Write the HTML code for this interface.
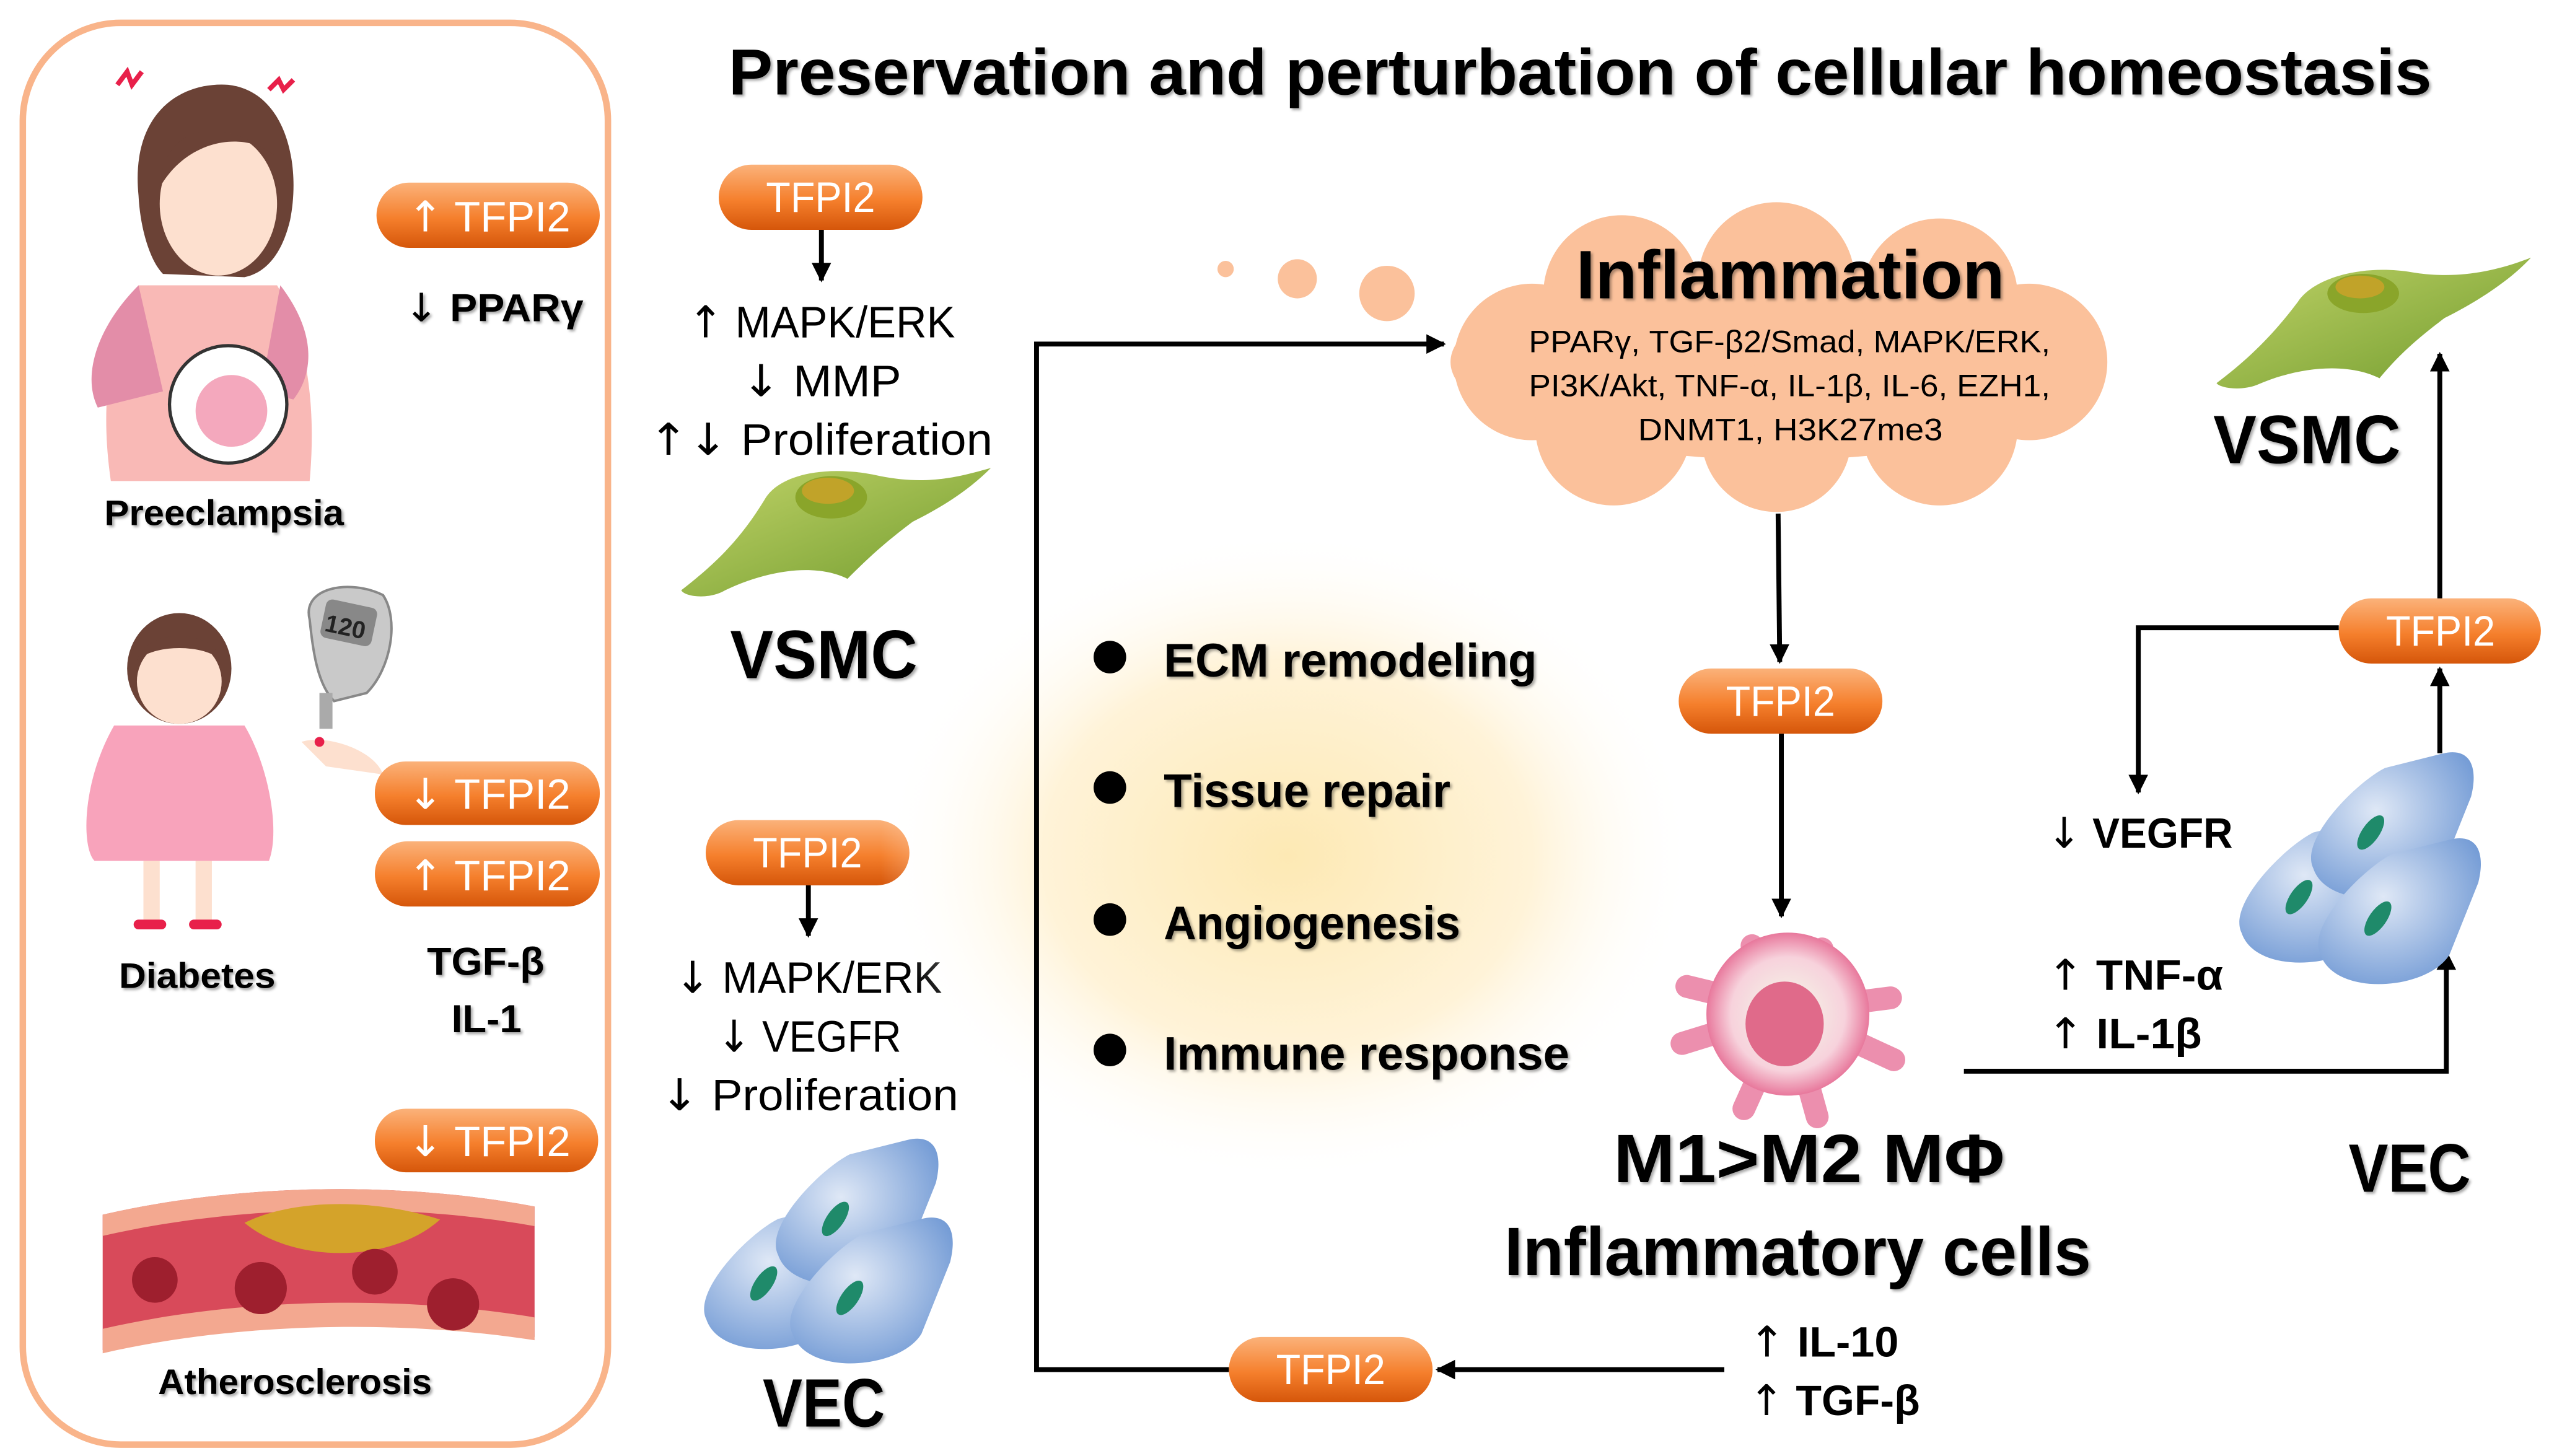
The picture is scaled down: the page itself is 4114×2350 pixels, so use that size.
<!DOCTYPE html>
<html><head><meta charset="utf-8"><style>
html,body{margin:0;padding:0;background:#fff;}
svg{display:block;}
text{font-family:"Liberation Sans",sans-serif;}
.ar{font-family:"DejaVu Sans",sans-serif;font-weight:normal;}
</style></head><body>
<svg width="4114" height="2350" viewBox="0 0 1564 893" preserveAspectRatio="none" xmlns="http://www.w3.org/2000/svg">
<defs>
<linearGradient id="pill" x1="0" y1="0" x2="0" y2="1">
<stop offset="0" stop-color="#fbb27a"/><stop offset="0.55" stop-color="#f57f2c"/><stop offset="1" stop-color="#d5560a"/></linearGradient>
<radialGradient id="glow" cx="0.5" cy="0.5" r="0.5">
<stop offset="0" stop-color="#fde9b4"/><stop offset="0.6" stop-color="#fff3d8"/><stop offset="1" stop-color="#ffffff" stop-opacity="0"/></radialGradient>
<linearGradient id="green" x1="0" y1="0" x2="1" y2="1">
<stop offset="0" stop-color="#c2d469"/><stop offset="1" stop-color="#6f9a2c"/></linearGradient>
<radialGradient id="blue" cx="0.4" cy="0.4" r="0.7">
<stop offset="0" stop-color="#dfe8f6"/><stop offset="1" stop-color="#6f98d4"/></radialGradient>
<radialGradient id="mac" cx="0.5" cy="0.5" r="0.5">
<stop offset="0" stop-color="#f4fbe9"/><stop offset="0.7" stop-color="#f7d2dc"/><stop offset="1" stop-color="#e8789c"/></radialGradient>
<marker id="ah" viewBox="0 0 10 10" refX="9" refY="5" markerWidth="4" markerHeight="4" orient="auto"><path d="M0,0 L10,5 L0,10 z" fill="#000"/></marker>
<filter id="sh" x="-5%" y="-5%" width="110%" height="120%"><feDropShadow dx="1.2" dy="1.2" stdDeviation="0.8" flood-color="#000" flood-opacity="0.35"/></filter>
<g id="vec">
<path d="M-70,40 C-80,20 -40,-20 -20,-30 L20,-40 C40,-45 45,-30 40,-10 L20,40 C5,65 -60,70 -70,40 z" fill="url(#blue)"/>
<ellipse cx="-30" cy="15" rx="6" ry="14" transform="rotate(35 -30 15)" fill="#1f8a6a"/>
</g>
</defs>
<rect width="1564" height="893" fill="#fff"/>
<rect x="14" y="14" width="359" height="872" rx="60" fill="none" stroke="#f9b48a" stroke-width="4"/>
<!-- pregnant woman -->
<g>
<path d="M85,120 C80,70 110,50 140,52 C175,56 185,100 178,135 C172,160 160,168 150,170 L100,168 C92,160 86,140 85,120 Z" fill="#6b4236"/>
<ellipse cx="134" cy="125" rx="36" ry="44" fill="#fde0cf"/>
<path d="M98,115 C100,80 130,68 168,95 C150,80 115,85 98,115z" fill="#6b4236"/>
<path d="M85,175 C70,200 60,240 68,295 L190,295 C195,240 185,200 170,175 Z" fill="#f9b9b6"/>
<path d="M85,175 C60,200 50,230 60,250 L100,240 Z" fill="#e38da8"/>
<path d="M172,175 C195,205 192,230 180,245 L160,240 Z" fill="#e38da8"/>
<ellipse cx="140" cy="248" rx="36" ry="36" fill="#fff" stroke="#333" stroke-width="2"/>
<circle cx="142" cy="252" r="22" fill="#f4a8bd"/>
<path d="M72,52 l6,-8 l3,8 l6,-8" stroke="#e8204a" stroke-width="3" fill="none"/>
<path d="M165,55 l6,-6 l3,6 l6,-6" stroke="#e8204a" stroke-width="3" fill="none"/>
</g>
<!-- child + meter -->
<g>
<ellipse cx="110" cy="410" rx="32" ry="34" fill="#6b4236"/>
<ellipse cx="110" cy="418" rx="26" ry="26" fill="#fde0cf"/>
<path d="M84,405 C90,385 130,385 136,405 C125,395 95,395 84,405z" fill="#6b4236"/>
<path d="M70,445 C50,480 50,520 58,528 L165,528 C172,510 165,470 150,445 Z" fill="#f8a3bb"/>
<rect x="88" y="528" width="10" height="38" fill="#fde0cf"/><rect x="120" y="528" width="10" height="38" fill="#fde0cf"/>
<rect x="82" y="564" width="20" height="6" rx="3" fill="#e8204a"/><rect x="116" y="564" width="20" height="6" rx="3" fill="#e8204a"/>
<path d="M190,380 C185,360 215,355 235,365 C245,380 240,410 225,425 L205,430 C195,420 192,400 190,380z" fill="#c9c9c9" stroke="#888" stroke-width="1.5"/>
<rect x="198" y="370" width="32" height="24" rx="4" fill="#888" transform="rotate(12 214 382)"/>
<text x="200" y="390" font-size="15" font-weight="bold" fill="#222" transform="rotate(12 214 382)">120</text>
<rect x="196" y="425" width="8" height="22" fill="#aaa"/>
<path d="M185,455 C200,450 230,460 235,475 L200,470 Z" fill="#fde0cf"/>
<circle cx="196" cy="455" r="3" fill="#e8204a"/>
</g>
<!-- artery -->
<g>
<path d="M63,745 C150,725 250,725 328,740 L328,820 C250,808 150,808 63,828 Z" fill="#d84a5a"/>
<path d="M63,745 C150,725 250,725 328,740 L328,752 C250,738 150,738 63,758 Z" fill="#f3a890"/>
<path d="M63,815 C150,795 250,795 328,808 L328,822 C250,810 150,810 63,830 Z" fill="#f3a890"/>
<path d="M150,750 C180,735 230,735 270,748 C240,775 180,775 150,750z" fill="#d4a32a"/>
<circle cx="95" cy="785" r="14" fill="#9e1f2e"/><circle cx="160" cy="790" r="16" fill="#9e1f2e"/><circle cx="230" cy="780" r="14" fill="#9e1f2e"/><circle cx="278" cy="800" r="16" fill="#9e1f2e"/>
</g>
<!-- left labels -->
<g font-weight="bold" fill="#000" filter="url(#sh)" lengthAdjust="spacingAndGlyphs">
<text x="64" y="322" font-size="22" textLength="147" lengthAdjust="spacingAndGlyphs">Preeclampsia</text>
<text x="73" y="606" font-size="22" textLength="96" lengthAdjust="spacingAndGlyphs">Diabetes</text>
<text x="97" y="855" font-size="22" textLength="168" lengthAdjust="spacingAndGlyphs">Atherosclerosis</text>
<text x="248" y="197" font-size="24" textLength="110" lengthAdjust="spacingAndGlyphs"><tspan class="ar">↓</tspan> PPARγ</text>
<text x="262" y="598" font-size="24" textLength="72" lengthAdjust="spacingAndGlyphs">TGF-β</text>
<text x="277" y="633" font-size="24" textLength="43" lengthAdjust="spacingAndGlyphs">IL-1</text>
</g>
<!-- pills -->
<g>
<rect x="231" y="112" width="137" height="40" rx="20" fill="url(#pill)"/>
<rect x="230" y="467" width="138" height="39" rx="19" fill="url(#pill)"/>
<rect x="230" y="516" width="138" height="40" rx="20" fill="url(#pill)"/>
<rect x="230" y="680" width="137" height="39" rx="19" fill="url(#pill)"/>
<rect x="441" y="101" width="125" height="40" rx="20" fill="url(#pill)"/>
<rect x="433" y="503" width="125" height="40" rx="20" fill="url(#pill)"/>
<rect x="1030" y="410" width="125" height="40" rx="20" fill="url(#pill)"/>
<rect x="1435" y="367" width="124" height="40" rx="20" fill="url(#pill)"/>
<rect x="754" y="820" width="125" height="40" rx="20" fill="url(#pill)"/>
</g>
<g fill="#fff" font-size="26">
<text x="250" y="142" textLength="100" lengthAdjust="spacingAndGlyphs"><tspan class="ar">↑</tspan> TFPI2</text>
<text x="250" y="496" textLength="100" lengthAdjust="spacingAndGlyphs"><tspan class="ar">↓</tspan> TFPI2</text>
<text x="250" y="546" textLength="100" lengthAdjust="spacingAndGlyphs"><tspan class="ar">↑</tspan> TFPI2</text>
<text x="250" y="709" textLength="100" lengthAdjust="spacingAndGlyphs"><tspan class="ar">↓</tspan> TFPI2</text>
<text x="470" y="130" textLength="67" lengthAdjust="spacingAndGlyphs">TFPI2</text>
<text x="462" y="532" textLength="67" lengthAdjust="spacingAndGlyphs">TFPI2</text>
<text x="1059" y="439" textLength="67" lengthAdjust="spacingAndGlyphs">TFPI2</text>
<text x="1464" y="396" textLength="67" lengthAdjust="spacingAndGlyphs">TFPI2</text>
<text x="783" y="849" textLength="67" lengthAdjust="spacingAndGlyphs">TFPI2</text>
</g>
<text x="447" y="58" font-size="40" font-weight="bold" textLength="1045" lengthAdjust="spacingAndGlyphs" filter="url(#sh)">Preservation and perturbation of cellular homeostasis</text>
<!-- VSMC column -->
<line x1="504" y1="141" x2="504" y2="172" stroke="#000" stroke-width="3" marker-end="url(#ah)"/>
<g font-size="27" fill="#000">
<text x="422" y="207" textLength="164" lengthAdjust="spacingAndGlyphs"><tspan class="ar">↑</tspan> MAPK/ERK</text>
<text x="455" y="243" textLength="98" lengthAdjust="spacingAndGlyphs"><tspan class="ar">↓</tspan> MMP</text>
<text x="398" y="279" textLength="211" lengthAdjust="spacingAndGlyphs"><tspan class="ar">↑↓</tspan> Proliferation</text>
<text x="414" y="609" textLength="164" lengthAdjust="spacingAndGlyphs"><tspan class="ar">↓</tspan> MAPK/ERK</text>
<text x="440" y="645" textLength="113" lengthAdjust="spacingAndGlyphs"><tspan class="ar">↓</tspan> VEGFR</text>
<text x="405" y="681" textLength="183" lengthAdjust="spacingAndGlyphs"><tspan class="ar">↓</tspan> Proliferation</text>
</g>
<line x1="496" y1="543" x2="496" y2="574" stroke="#000" stroke-width="3" marker-end="url(#ah)"/>
<path d="M418,362 C440,345 455,330 470,305 C480,290 510,285 540,292 C570,298 590,292 608,287 C595,300 580,310 560,320 C540,335 530,345 520,355 C500,345 470,350 445,362 C435,368 420,366 418,362z" fill="url(#green)"/>
<ellipse cx="510" cy="305" rx="22" ry="13" fill="#8aa52a"/><ellipse cx="508" cy="301" rx="16" ry="8" fill="#d9a22a" opacity="0.7"/>
<g font-weight="bold" fill="#000" filter="url(#sh)" font-size="42">
<text x="448" y="416" textLength="115" lengthAdjust="spacingAndGlyphs">VSMC</text>
<text x="468" y="875" textLength="75" lengthAdjust="spacingAndGlyphs">VEC</text>
<text x="1358" y="284" textLength="115" lengthAdjust="spacingAndGlyphs">VSMC</text>
<text x="1441" y="731" textLength="75" lengthAdjust="spacingAndGlyphs">VEC</text>
</g>
<g transform="translate(495,752) scale(0.88)"><use href="#vec" transform="translate(0,25)"/><use href="#vec" transform="translate(50,-20)"/><use href="#vec" transform="translate(60,35)"/></g>
<!-- glow + bullets -->
<ellipse cx="790" cy="525" rx="250" ry="200" fill="url(#glow)"/>
<g fill="#000"><circle cx="681" cy="403" r="10"/><circle cx="681" cy="483" r="10"/><circle cx="681" cy="564" r="10"/><circle cx="681" cy="644" r="10"/></g>
<g font-size="29" font-weight="bold" fill="#000" filter="url(#sh)">
<text x="714" y="415" textLength="229" lengthAdjust="spacingAndGlyphs">ECM remodeling</text>
<text x="714" y="495" textLength="176" lengthAdjust="spacingAndGlyphs">Tissue repair</text>
<text x="714" y="576" textLength="182" lengthAdjust="spacingAndGlyphs">Angiogenesis</text>
<text x="714" y="656" textLength="249" lengthAdjust="spacingAndGlyphs">Immune response</text>
</g>
<!-- loop -->
<path d="M754,840 L636,840 L636,211 L886,211" fill="none" stroke="#000" stroke-width="3" marker-end="url(#ah)"/>
<line x1="1058" y1="840" x2="882" y2="840" stroke="#000" stroke-width="3" marker-end="url(#ah)"/>
<g font-size="26" font-weight="bold" fill="#000">
<text x="1073" y="832" textLength="92" lengthAdjust="spacingAndGlyphs"><tspan class="ar">↑</tspan> IL-10</text>
<text x="1073" y="868" textLength="105" lengthAdjust="spacingAndGlyphs"><tspan class="ar">↑</tspan> TGF-β</text></g>
<!-- cloud -->
<g fill="#fbc19b">
<circle cx="752" cy="165" r="5"/><circle cx="796" cy="171" r="12"/><circle cx="851" cy="180" r="17"/>
<ellipse cx="1090" cy="222" rx="200" ry="60"/>
<circle cx="995" cy="180" r="48"/><circle cx="1090" cy="172" r="48"/><circle cx="1190" cy="182" r="48"/>
<circle cx="940" cy="222" r="48"/><circle cx="1245" cy="222" r="48"/>
<circle cx="990" cy="262" r="48"/><circle cx="1090" cy="268" r="46"/><circle cx="1190" cy="262" r="48"/>
</g>
<text x="967" y="183" font-size="42" font-weight="bold" textLength="263" lengthAdjust="spacingAndGlyphs" filter="url(#sh)">Inflammation</text>
<g font-size="19" fill="#000">
<text x="938" y="216" textLength="320" lengthAdjust="spacingAndGlyphs">PPARγ, TGF-β2/Smad, MAPK/ERK,</text>
<text x="938" y="243" textLength="320" lengthAdjust="spacingAndGlyphs">PI3K/Akt, TNF-α, IL-1β, IL-6, EZH1,</text>
<text x="1005" y="270" textLength="187" lengthAdjust="spacingAndGlyphs">DNMT1, H3K27me3</text>
</g>
<line x1="1091" y1="315" x2="1092" y2="406" stroke="#000" stroke-width="3" marker-end="url(#ah)"/>
<line x1="1093" y1="450" x2="1093" y2="562" stroke="#000" stroke-width="3" marker-end="url(#ah)"/>
<!-- macrophage -->
<g>
<g stroke="#ec8fae" stroke-width="14" stroke-linecap="round">
<line x1="1097" y1="620" x2="1075" y2="580"/><line x1="1097" y1="620" x2="1118" y2="582"/>
<line x1="1097" y1="620" x2="1035" y2="605"/><line x1="1097" y1="620" x2="1160" y2="612"/>
<line x1="1097" y1="620" x2="1032" y2="640"/><line x1="1097" y1="620" x2="1162" y2="650"/>
<line x1="1097" y1="620" x2="1070" y2="680"/><line x1="1097" y1="620" x2="1115" y2="685"/>
</g>
<circle cx="1097" cy="622" r="50" fill="url(#mac)"/>
<ellipse cx="1095" cy="628" rx="24" ry="26" fill="#e06a8a"/>
</g>
<g font-weight="bold" fill="#000" filter="url(#sh)" font-size="42">
<text x="990" y="725" textLength="240" lengthAdjust="spacingAndGlyphs">M1&gt;M2 MΦ</text>
<text x="923" y="782" textLength="360" lengthAdjust="spacingAndGlyphs">Inflammatory cells</text>
</g>
<!-- right side -->
<path d="M1205,657 L1501,657 L1501,584" fill="none" stroke="#000" stroke-width="3" marker-end="url(#ah)"/>
<g font-size="26" font-weight="bold" fill="#000">
<text x="1256" y="607" textLength="108" lengthAdjust="spacingAndGlyphs"><tspan class="ar">↑</tspan> TNF-α</text>
<text x="1256" y="643" textLength="95" lengthAdjust="spacingAndGlyphs"><tspan class="ar">↑</tspan> IL-1β</text>
<text x="1256" y="520" textLength="114" lengthAdjust="spacingAndGlyphs"><tspan class="ar">↓</tspan> VEGFR</text></g>
<g transform="translate(1437,515) scale(0.88)"><use href="#vec" transform="translate(0,25)"/><use href="#vec" transform="translate(50,-20)"/><use href="#vec" transform="translate(55,40)"/></g>
<line x1="1497" y1="462" x2="1497" y2="410" stroke="#000" stroke-width="3" marker-end="url(#ah)"/>
<line x1="1497" y1="367" x2="1497" y2="217" stroke="#000" stroke-width="3" marker-end="url(#ah)"/>
<path d="M1435,385 L1312,385 L1312,486" fill="none" stroke="#000" stroke-width="3" marker-end="url(#ah)"/>
<path d="M1360,235 C1380,220 1395,205 1410,185 C1420,170 1450,162 1480,167 C1510,172 1535,165 1553,158 C1540,172 1520,185 1500,195 C1480,210 1470,220 1460,232 C1440,222 1410,225 1385,236 C1375,240 1362,238 1360,235z" fill="url(#green)"/>
<ellipse cx="1450" cy="180" rx="22" ry="12" fill="#8aa52a"/><ellipse cx="1448" cy="176" rx="15" ry="7" fill="#d9a22a" opacity="0.7"/>
</svg>
</body></html>
